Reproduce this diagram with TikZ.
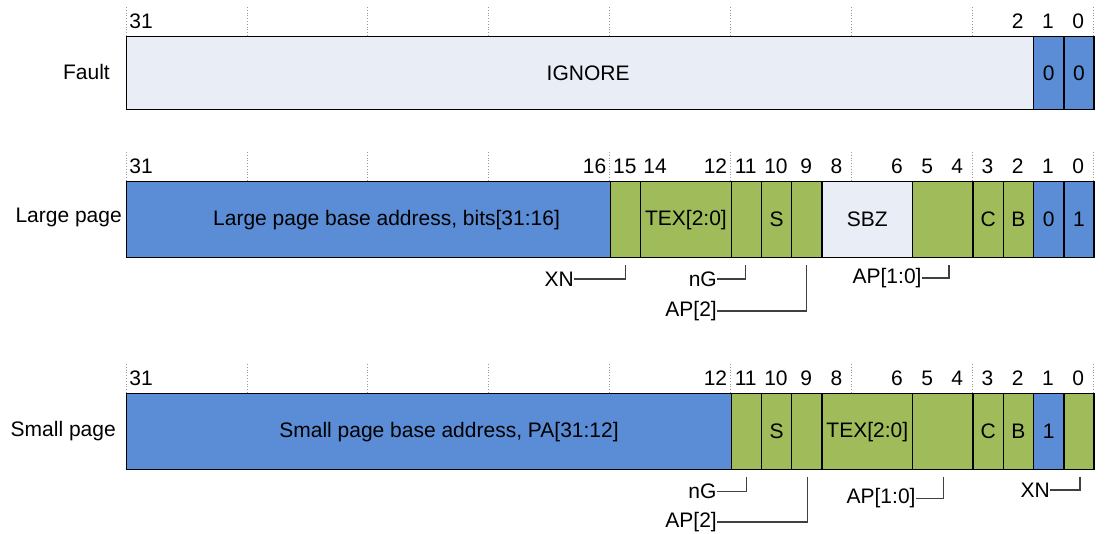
\documentclass[tikz,border=0pt]{standalone}
\usepackage{fontspec}
\setmainfont{Liberation Sans}
\definecolor{fblue}{HTML}{5B8CD6}
\definecolor{fgreen}{HTML}{9FBB5A}
\definecolor{flight}{HTML}{E9EDF6}
\definecolor{conncol}{HTML}{404040}
\tikzset{
  txt/.style={font=\fontsize{21}{25}\selectfont, text=black},
  field/.style={txt, draw=black, line width=1.4pt, inner sep=0pt, rectangle},
  blue/.style={fill=fblue},
  green/.style={fill=fgreen},
  light/.style={fill=flight},
  bitnum/.style={txt, inner sep=0pt},
  rowname/.style={txt, inner sep=0pt, anchor=east},
  lbl/.style={txt, inner sep=0pt, anchor=east},
  conn/.style={draw=conncol, line width=1.1pt},
  grid/.style={draw=gray!80, line width=0.8pt, dotted}
}
\def\W{30.23}
\newcommand\fld[7]{%
  \pgfmathsetmacro\myfxl{126+(31-#2)*\W}%
  \pgfmathsetmacro\myfwid{(#2-#3+1)*\W}%
  \node[field,#6,minimum width=\myfwid pt,minimum height=#5 pt,anchor=north west] (#1) at (\myfxl,#4) {#7};}
\newcommand\bn[3]{%
  \pgfmathsetmacro\mybxc{126+(31-#2+0.5)*\W}%
  \node[bitnum] (#1) at (\mybxc,#3) {#2};}
\newcommand\gridrow[1]{%
  \foreach \k in {0,...,8}{%
    \pgfmathsetmacro\myggx{126+\k*4*\W}%
    \draw[grid] (\myggx,#1-29) -- (\myggx,#1);}}
\begin{document}
\begin{tikzpicture}[x=1pt,y=-1pt]
\useasboundingbox (0,0) rectangle (1105,533);

% ---------------- Fault ----------------
\gridrow{36}
\node[rowname] (rfault) at (110,72) {Fault};
\fld{fign}{31}{2}{36}{73}{light}{\hspace*{16pt}IGNORE}
\fld{fb1}{1}{1}{36}{73}{blue}{0}
\fld{fb0}{0}{0}{36}{73}{blue}{0}
\bn{fn31}{31}{21}
\bn{fn2}{2}{21}
\bn{fn1}{1}{21}
\bn{fn0}{0}{21}

% ---------------- Large page ----------------
\gridrow{181}
\node[rowname] (rlarge) at (122,217) {Large page};
\fld{lbase}{31}{16}{181}{76}{blue}{\hspace*{36pt}Large page base address, bits[31:16]}
\fld{lxn}{15}{15}{181}{76}{green}{}
\fld{ltex}{14}{12}{181}{76}{green}{TEX[2:0]}
\fld{lng}{11}{11}{181}{76}{green}{}
\fld{ls}{10}{10}{181}{76}{green}{S}
\fld{lap2}{9}{9}{181}{76}{green}{}
\fld{lsbz}{8}{6}{181}{76}{light}{SBZ}
\fld{lap}{5}{4}{181}{76}{green}{}
\fld{lc}{3}{3}{181}{76}{green}{C}
\fld{lb}{2}{2}{181}{76}{green}{B}
\fld{lb1}{1}{1}{181}{76}{blue}{0}
\fld{lb0}{0}{0}{181}{76}{blue}{1}
\foreach \b in {31,16,15,14,12,11,10,9,8,6,5,4,3,2,1,0}{\bn{ln\b}{\b}{166}}

\coordinate (cxnL) at (625.7,265);
\coordinate (cngL) at (745.7,265);
\coordinate (cap2L) at (806.7,265);
\coordinate (capL) at (949,265);
\node[lbl] (txnL) at (574,279) {XN};
\node[lbl] (tngL) at (717,279) {nG};
\node[lbl] (tap2L) at (717,311) {AP[2]};
\node[lbl] (tapL) at (921.7,278) {AP[1:0]};
\draw[conn] (cxnL) |- (txnL.east);
\draw[conn] (cngL) |- (tngL.east);
\draw[conn] (cap2L) |- (tap2L.east);
\draw[conn] (capL) |- (tapL.east);

% ---------------- Small page ----------------
\gridrow{393}
\node[rowname] (rsmall) at (116,431) {Small page};
\fld{sbase}{31}{12}{393}{76}{blue}{\hspace*{40pt}Small page base address, PA[31:12]}
\fld{sng}{11}{11}{393}{76}{green}{}
\fld{ss}{10}{10}{393}{76}{green}{S}
\fld{sap2}{9}{9}{393}{76}{green}{}
\fld{stex}{8}{6}{393}{76}{green}{TEX[2:0]}
\fld{sap}{5}{4}{393}{76}{green}{}
\fld{sc}{3}{3}{393}{76}{green}{C}
\fld{sb}{2}{2}{393}{76}{green}{B}
\fld{sb1}{1}{1}{393}{76}{blue}{1}
\fld{sxn}{0}{0}{393}{76}{green}{}
\foreach \b in {31,12,11,10,9,8,6,5,4,3,2,1,0}{\bn{sn\b}{\b}{378}}

\coordinate (cngS) at (746.7,477);
\coordinate (cap2S) at (807.3,477);
\coordinate (capS) at (943.3,477);
\coordinate (cxnS) at (1080,477);
\node[lbl] (tngS) at (716.7,491.7) {nG};
\node[lbl] (tap2S) at (717,522) {AP[2]};
\node[lbl] (tapS) at (915.7,498.3) {AP[1:0]};
\node[lbl] (txnS) at (1050,490) {XN};
\draw[conn] (cngS) |- (tngS.east);
\draw[conn] (cap2S) |- (tap2S.east);
\draw[conn] (capS) |- (tapS.east);
\draw[conn] (cxnS) |- (txnS.east);
\end{tikzpicture}
\end{document}
